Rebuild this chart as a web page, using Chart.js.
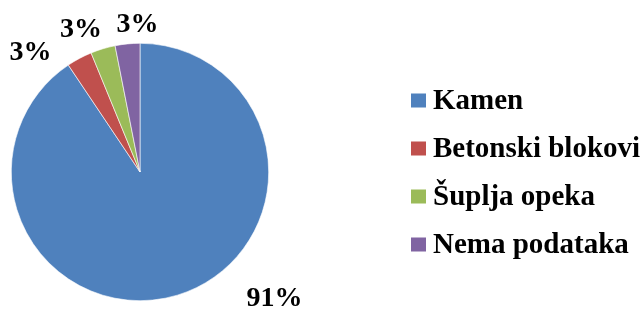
<!DOCTYPE html>
<html>
<head>
<meta charset="utf-8">
<script src="https://cdn.jsdelivr.net/npm/chart.js@4/dist/chart.umd.min.js"></script>
<style>
html,body{margin:0;padding:0;background:#fff;}
canvas{display:block;}
</style>
</head>
<body>
<canvas id="c" width="644" height="309"></canvas>
<script>
// Data
const categories = ["Kamen", "Betonski blokovi", "Šuplja opeka", "Nema podataka"];
const values = [90.6, 3.2, 3.1, 3.1];
const colors = ["#4F81BD", "#C0504D", "#9BBB59", "#8064A2"];

const LABEL_FONT = "bold 28px 'Liberation Serif', 'Times New Roman', serif";
const LEGEND_FONT = "bold 29px 'Liberation Serif', 'Times New Roman', serif";

// label offsets (px) from the outer edge point at each slice's mid angle
const labelOffsets = [[97, 4], [-49, -6], [-22, -19], [10, -19]];

const labelPlugin = {
  id: 'pctLabels',
  afterDatasetsDraw(chart) {
    const ctx = chart.ctx;
    const meta = chart.getDatasetMeta(0);
    const data = chart.data.datasets[0].data;
    const total = data.reduce((a, b) => a + b, 0);
    ctx.save();
    ctx.font = LABEL_FONT;
    ctx.fillStyle = '#000';
    ctx.textAlign = 'center';
    ctx.textBaseline = 'middle';
    meta.data.forEach((arc, i) => {
      const p = arc.getProps(['x', 'y', 'startAngle', 'endAngle', 'outerRadius'], true);
      const mid = (p.startAngle + p.endAngle) / 2;
      const ox = p.x + Math.cos(mid) * p.outerRadius;
      const oy = p.y + Math.sin(mid) * p.outerRadius;
      const txt = Math.round(data[i] / total * 100) + '%';
      ctx.fillText(txt, ox + labelOffsets[i][0], oy + labelOffsets[i][1]);
    });
    ctx.restore();
  }
};

const legendPlugin = {
  id: 'sideLegend',
  afterDraw(chart) {
    const ctx = chart.ctx;
    const labels = chart.data.labels;
    const bg = chart.data.datasets[0].backgroundColor;
    ctx.save();
    ctx.font = LEGEND_FONT;
    ctx.textAlign = 'left';
    ctx.textBaseline = 'middle';
    const x0 = 411, y0 = 100.5, step = 48, box = 14;
    labels.forEach((lab, i) => {
      const y = y0 + i * step;
      ctx.fillStyle = bg[i];
      ctx.fillRect(x0, y - box / 2, 15, box);
      ctx.fillStyle = '#000';
      ctx.fillText(lab, x0 + 22, y + 1);
    });
    ctx.restore();
  }
};

new Chart(document.getElementById('c'), {
  type: 'pie',
  data: {
    labels: categories,
    datasets: [{
      data: values,
      backgroundColor: colors,
      borderColor: '#ffffff',
      borderWidth: 0.6
    }]
  },
  options: {
    responsive: false,
    animation: false,
    layout: { padding: { left: 11, right: 375, top: 43, bottom: 8 } },
    plugins: {
      legend: { display: false },
      tooltip: { enabled: false }
    }
  },
  plugins: [labelPlugin, legendPlugin]
});
</script>
</body>
</html>
